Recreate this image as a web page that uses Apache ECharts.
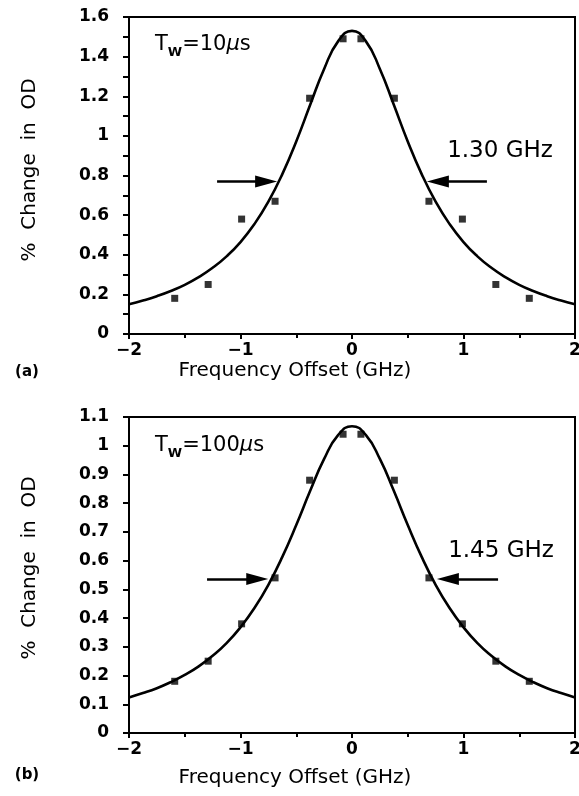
<!DOCTYPE html>
<html>
<head>
<meta charset="utf-8">
<script src="https://cdn.jsdelivr.net/npm/echarts@6/dist/echarts.min.js"></script>
<style>
html,body{margin:0;padding:0;background:#fff;}
#chart{width:579px;height:796px;}
</style>
</head>
<body>
<div id="chart"></div>
<script>
// ---- data ----
const fitFreq = [-2, -1.875, -1.75, -1.625, -1.5, -1.375, -1.25, -1.125, -1, -0.875, -0.75, -0.625, -0.5, -0.375, -0.25, -0.125, 0,
                 0.125, 0.25, 0.375, 0.5, 0.625, 0.75, 0.875, 1, 1.125, 1.25, 1.375, 1.5, 1.625, 1.75, 1.875, 2];
const fitA = [0.150, 0.169, 0.191, 0.217, 0.248, 0.287, 0.334, 0.392, 0.464, 0.555, 0.668, 0.807, 0.972, 1.157, 1.338, 1.477, 1.530,
              1.477, 1.338, 1.157, 0.972, 0.807, 0.668, 0.555, 0.464, 0.392, 0.334, 0.287, 0.248, 0.217, 0.191, 0.169, 0.150];
const fitB = [0.124, 0.139, 0.156, 0.177, 0.202, 0.232, 0.269, 0.313, 0.368, 0.435, 0.516, 0.613, 0.724, 0.843, 0.954, 1.037, 1.068,
              1.037, 0.954, 0.843, 0.724, 0.613, 0.516, 0.435, 0.368, 0.313, 0.269, 0.232, 0.202, 0.177, 0.156, 0.139, 0.124];
const ptFreq = [-1.59, -1.29, -0.99, -0.69, -0.38, -0.08, 0.08, 0.38, 0.69, 0.99, 1.29, 1.59];
const ptA = [0.18, 0.25, 0.58, 0.67, 1.19, 1.49, 1.49, 1.19, 0.67, 0.58, 0.25, 0.18];
const ptB = [0.18, 0.25, 0.38, 0.54, 0.88, 1.04, 1.04, 0.88, 0.54, 0.38, 0.25, 0.18];
const xTicks = [-2, -1, 0, 1, 2];
const yTicksA = [0, 0.2, 0.4, 0.6, 0.8, 1, 1.2, 1.4, 1.6];
const yTicksB = [0, 0.1, 0.2, 0.3, 0.4, 0.5, 0.6, 0.7, 0.8, 0.9, 1, 1.1];
const widthLabelA = '1.30 GHz';
const widthLabelB = '1.45 GHz';
// half-width arrow annotations (data coordinates: tail, head centre)
const arrowsA = [[[-1.21, 0.77], [-0.77, 0.77]], [[1.21, 0.77], [0.77, 0.77]]];
const arrowsB = [[[-1.30, 0.536], [-0.85, 0.536]], [[1.31, 0.536], [0.86, 0.536]]];

// ---- chart ----
const chart = echarts.init(document.getElementById('chart'), null, {renderer: 'canvas'});
const FONT = 'DejaVu Sans';
const pairs = (xs, ys) => xs.map((x, i) => [x, ys[i]]);

function xAxis(gridIndex) {
  return {
    type: 'value', gridIndex, min: xTicks[0], max: xTicks[xTicks.length - 1],
    interval: xTicks[1] - xTicks[0],
    axisLine: {show: true, onZero: false, lineStyle: {color: '#000', width: 2}},
    axisTick: {show: true, length: 5, lineStyle: {color: '#000', width: 2}},
    minorTick: {show: true, splitNumber: 2, length: 4, lineStyle: {color: '#000', width: 2}},
    splitLine: {show: false},
    axisLabel: {
      color: '#000', fontFamily: FONT, fontWeight: 'bold', fontSize: 17, margin: 8,
      showMinLabel: true, showMaxLabel: true,
      formatter: v => String(v).replace('-', '\u2212')
    }
  };
}
function yAxis(gridIndex, ticks, minor) {
  return {
    type: 'value', gridIndex, min: ticks[0], max: ticks[ticks.length - 1],
    interval: Math.round((ticks[1] - ticks[0]) * 1000) / 1000,
    axisLine: {show: true, onZero: false, lineStyle: {color: '#000', width: 2}},
    axisTick: {show: true, length: 6, lineStyle: {color: '#000', width: 2}},
    minorTick: {show: minor, splitNumber: 2, length: 6, lineStyle: {color: '#000', width: 2}},
    splitLine: {show: false},
    axisLabel: {
      color: '#000', fontFamily: FONT, fontWeight: 'bold', fontSize: 17, margin: 20,
      showMinLabel: true, showMaxLabel: true,
      formatter: v => String(Math.round(v * 100) / 100)
    }
  };
}
function arrowMark(arrs) {
  return {
    silent: true,
    symbol: ['none', 'triangle'],
    symbolSize: [12, 22],
    label: {show: false},
    lineStyle: {color: '#000', width: 2.5, type: 'solid'},
    itemStyle: {color: '#000'},
    data: arrs.map(a => [{coord: a[0]}, {coord: a[1]}])
  };
}
function fitSeries(idx, ys, arrs) {
  return {
    type: 'line', xAxisIndex: idx, yAxisIndex: idx, data: pairs(fitFreq, ys),
    smooth: true, showSymbol: false, symbol: 'none',
    lineStyle: {color: '#000', width: 2.6}, z: 3,
    markLine: arrowMark(arrs)
  };
}
function ptSeries(idx, ys) {
  return {
    type: 'scatter', xAxisIndex: idx, yAxisIndex: idx, data: pairs(ptFreq, ys),
    symbol: 'rect', symbolSize: 7, itemStyle: {color: '#000'}, z: 4
  };
}
function txt(x, y, text, size, weight) {
  return {
    type: 'text', x, y,
    style: {text, fill: '#000', font: `${weight} ${size}px "${FONT}"`,
      align: 'center', verticalAlign: 'middle'}
  };
}
function twLabel(x, y, num) {
  return {
    type: 'text', x, y,
    style: {
      text: `{t|T}{s|W}{t|=${num}}{m|\u03bc}{t|s}`,
      rich: {
        t: {fontFamily: FONT, fontSize: 21, fill: '#000', verticalAlign: 'bottom'},
        s: {fontFamily: FONT, fontSize: 13, fontWeight: 'bold', fill: '#000', verticalAlign: 'bottom', padding: [0, 0, -4, 0]},
        m: {fontFamily: FONT, fontSize: 21, fontStyle: 'italic', fill: '#000', verticalAlign: 'bottom'}
      },
      align: 'left', verticalAlign: 'middle'
    }
  };
}

const gridBase = {left: 129, right: 4, show: true, borderColor: '#000', borderWidth: 2,
  backgroundColor: 'transparent', containLabel: false, outerBoundsMode: 'none'};
const yTitleA = txt(30, 170, '%  Change  in  OD', 20, 'normal');
const yTitleB = txt(30, 568, '%  Change  in  OD', 20, 'normal');
yTitleA.rotation = Math.PI / 2;
yTitleB.rotation = Math.PI / 2;

const option = {
  backgroundColor: '#fff',
  animation: false,
  grid: [
    Object.assign({top: 17, height: 317}, gridBase),
    Object.assign({top: 417, height: 316}, gridBase)
  ],
  xAxis: [xAxis(0), xAxis(1)],
  yAxis: [yAxis(0, yTicksA, true), yAxis(1, yTicksB, false)],
  series: [
    fitSeries(0, fitA, arrowsA), ptSeries(0, ptA),
    fitSeries(1, fitB, arrowsB), ptSeries(1, ptB)
  ],
  graphic: [
    yTitleA, yTitleB,
    txt(295, 371, 'Frequency Offset (GHz)', 20, 'normal'),
    txt(295, 778, 'Frequency Offset (GHz)', 20, 'normal'),
    txt(27, 372, '(a)', 15, 'bold'),
    txt(27, 775, '(b)', 15, 'bold'),
    txt(500, 151, widthLabelA, 23, 'normal'),
    txt(501, 551, widthLabelB, 23, 'normal'),
    twLabel(155, 45, '10'),
    twLabel(155, 446, '100')
  ]
};
chart.setOption(option);
</script>
</body>
</html>
